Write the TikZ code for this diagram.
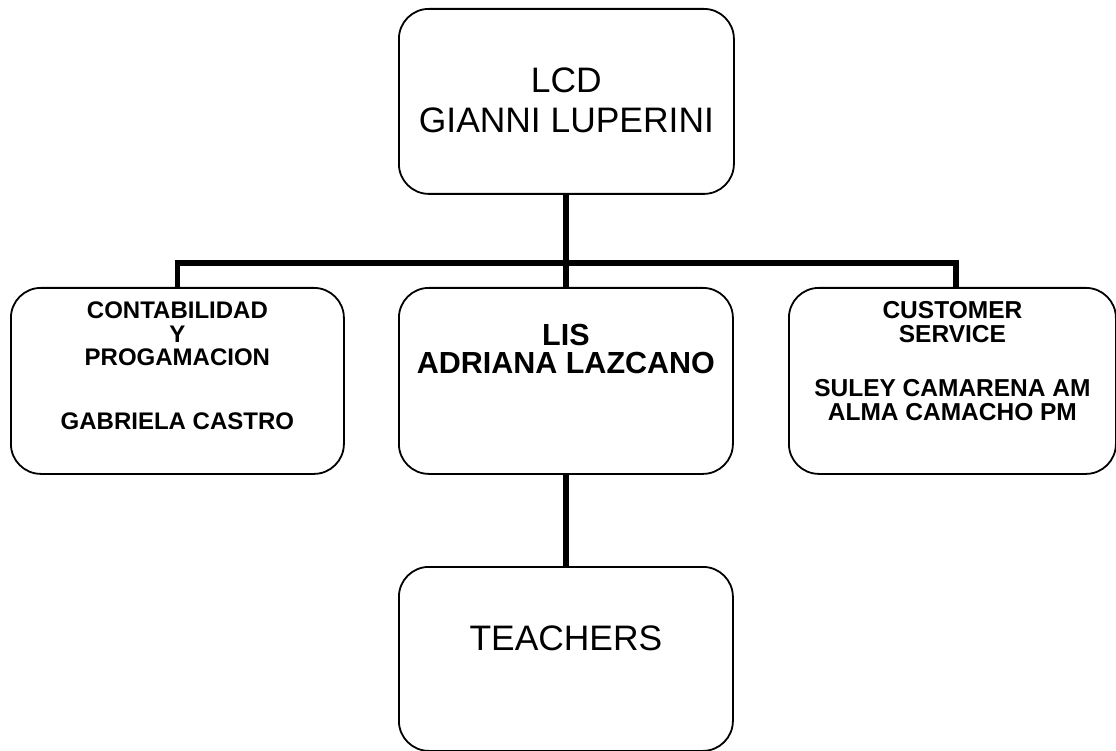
\documentclass[tikz,border=0pt]{standalone}
\usepackage{fontspec}
\setmainfont{Liberation Sans}
\begin{document}
\begin{tikzpicture}[x=1pt,y=-1pt,
  orgbox/.style={draw, line width=1.8pt, rounded corners=30pt, inner sep=0pt, anchor=north west},
  conn/.style={line width=5.5pt}]
\useasboundingbox (0,0) rectangle (1116,751);
\node[orgbox] (top) at (398,8) {\parbox[c][185pt][t]{335pt}{\centering\fontsize{35.4pt}{40pt}\selectfont\rule{0pt}{84pt}LCD\\GIANNI LUPERINI}};
\node[orgbox] (lft) at (10,287) {\parbox[c][186pt][t]{333pt}{\centering\bfseries\fontsize{24pt}{23.5pt}\selectfont\rule{0pt}{31pt}CONTABILIDAD\\Y\\PROGAMACION\\[40pt]GABRIELA CASTRO}};
\node[orgbox] (mid) at (398,287) {\parbox[c][186pt][t]{334pt}{\centering\bfseries\fontsize{30.5pt}{28pt}\selectfont\rule{0pt}{58pt}LIS\\ADRIANA LAZCANO}};
\node[orgbox] (rgt) at (788,287) {\parbox[c][186pt][t]{327pt}{\centering\bfseries\fontsize{24.5pt}{24pt}\selectfont\rule{0pt}{31pt}CUSTOMER\\SERVICE\\[30pt]SULEY CAMARENA AM\\ALMA CAMACHO PM}};
\node[orgbox] (tch) at (398,566) {\parbox[c][184pt][t]{334pt}{\centering\fontsize{35.4pt}{40pt}\selectfont\rule{0pt}{84pt}TEACHERS}};
\coordinate (bus) at (565,263);
\draw[conn] (mid.north |- top.south) -- (mid.north);
\draw[conn] (lft.north) |- (bus) -| ([xshift=3.5pt]rgt.north);
\draw[conn] (mid.south) -- (tch.north);
\end{tikzpicture}
\end{document}
